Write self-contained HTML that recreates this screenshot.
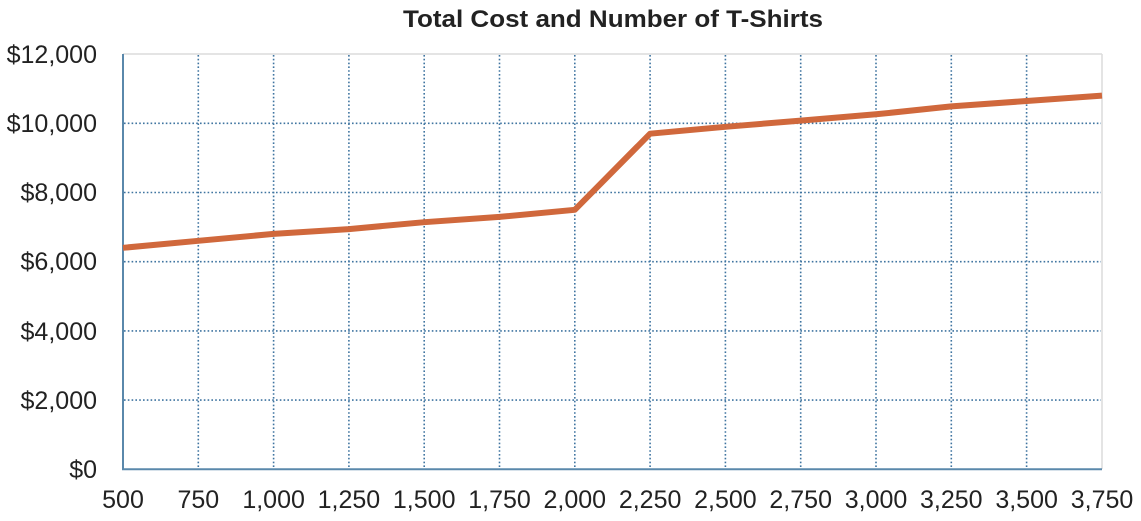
<!DOCTYPE html>
<html><head><meta charset="utf-8"><style>
html,body{margin:0;padding:0;background:#fff;width:1141px;height:521px;overflow:hidden}
svg{display:block}
text{font-family:"Liberation Sans",sans-serif;fill:#222}
</style></head><body>
<svg width="1141" height="521" viewBox="0 0 1141 521" xmlns="http://www.w3.org/2000/svg">
<text x="613" y="27" text-anchor="middle" font-size="24" font-weight="bold" textLength="420" lengthAdjust="spacingAndGlyphs">Total Cost and Number of T-Shirts</text>
<!-- frame -->
<line x1="123" y1="54" x2="1102" y2="54" stroke="#dcdcdc" stroke-width="1.5"/>
<line x1="1102" y1="54" x2="1102" y2="469" stroke="#dcdcdc" stroke-width="1.5"/>
<!-- horizontal grid -->
<g stroke="#3f74a0" stroke-width="1.6" stroke-dasharray="1.6 2.2">
<line x1="124" y1="123.3" x2="1101" y2="123.3"/>
<line x1="124" y1="192.5" x2="1101" y2="192.5"/>
<line x1="124" y1="261.7" x2="1101" y2="261.7"/>
<line x1="124" y1="330.9" x2="1101" y2="330.9"/>
<line x1="124" y1="400.1" x2="1101" y2="400.1"/>
</g>
<!-- vertical grid -->
<g stroke="#3f74a0" stroke-width="1.6" stroke-dasharray="1.6 2.2">
<line x1="198.3" y1="55" x2="198.3" y2="468"/>
<line x1="273.6" y1="55" x2="273.6" y2="468"/>
<line x1="348.9" y1="55" x2="348.9" y2="468"/>
<line x1="424.2" y1="55" x2="424.2" y2="468"/>
<line x1="499.5" y1="55" x2="499.5" y2="468"/>
<line x1="574.8" y1="55" x2="574.8" y2="468"/>
<line x1="650.1" y1="55" x2="650.1" y2="468"/>
<line x1="725.4" y1="55" x2="725.4" y2="468"/>
<line x1="800.7" y1="55" x2="800.7" y2="468"/>
<line x1="876.0" y1="55" x2="876.0" y2="468"/>
<line x1="951.3" y1="55" x2="951.3" y2="468"/>
<line x1="1026.6" y1="55" x2="1026.6" y2="468"/>
</g>
<!-- axes -->
<line x1="123" y1="54" x2="123" y2="470" stroke="#5a88ab" stroke-width="2"/>
<line x1="122" y1="469.3" x2="1102" y2="469.3" stroke="#5a88ab" stroke-width="2"/>
<!-- y labels -->
<g font-size="25" text-anchor="end">
<text x="97" y="63">$12,000</text>
<text x="97" y="132">$10,000</text>
<text x="97" y="201">$8,000</text>
<text x="97" y="270">$6,000</text>
<text x="97" y="340">$4,000</text>
<text x="97" y="409">$2,000</text>
<text x="97" y="478">$0</text>
</g>
<!-- x labels -->
<g font-size="25" text-anchor="middle">
<text x="123" y="508">500</text>
<text x="198.3" y="508">750</text>
<text x="273.6" y="508">1,000</text>
<text x="348.9" y="508">1,250</text>
<text x="424.2" y="508">1,500</text>
<text x="499.5" y="508">1,750</text>
<text x="574.8" y="508">2,000</text>
<text x="650.1" y="508">2,250</text>
<text x="725.4" y="508">2,500</text>
<text x="800.7" y="508">2,750</text>
<text x="876.0" y="508">3,000</text>
<text x="951.3" y="508">3,250</text>
<text x="1026.6" y="508">3,500</text>
<text x="1102" y="508">3,750</text>
</g>
<!-- series -->
<polyline fill="none" stroke="#d0683c" stroke-width="6" stroke-linejoin="round" stroke-linecap="butt"
points="123,247.8 198.3,240.8 273.6,233.9 348.9,229.1 424.2,222.2 499.5,216.9 574.8,209.8 650.1,133.7 725.4,126.8 800.7,120.6 876.0,114.3 951.3,106.4 1026.6,101.0 1102,95.6"/>
</svg>
</body></html>
